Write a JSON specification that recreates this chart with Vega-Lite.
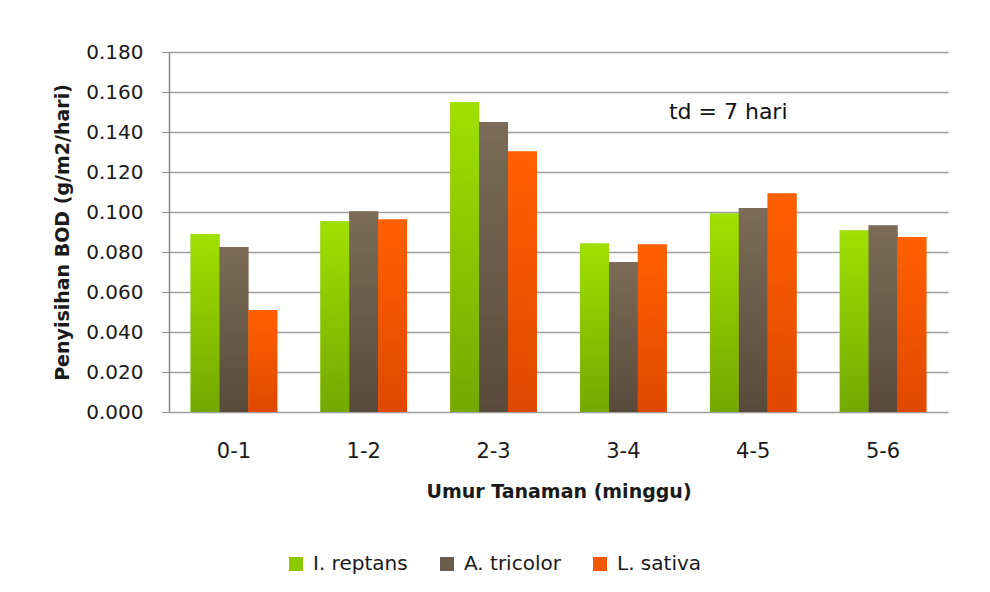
{
  "$schema": "https://vega.github.io/schema/vega-lite/v6.json",
  "width": 779,
  "height": 360,
  "autosize": {"type": "none"},
  "padding": {"left": 169, "top": 52, "right": 42, "bottom": 180},
  "background": "white",
  "config": {
    "font": "DejaVu Sans",
    "view": {"stroke": null},
    "axis": {"labelFont": "DejaVu Sans", "titleFont": "DejaVu Sans", "labelColor": "#1a1a1a", "titleColor": "#1a1a1a"},
    "legend": {"labelFont": "DejaVu Sans"}
  },
  "datasets": {
    "bod": [
      {"umur": "0-1", "spesies": "I. reptans", "bod": 0.089},
      {"umur": "0-1", "spesies": "A. tricolor", "bod": 0.0825},
      {"umur": "0-1", "spesies": "L. sativa", "bod": 0.051},
      {"umur": "1-2", "spesies": "I. reptans", "bod": 0.0955},
      {"umur": "1-2", "spesies": "A. tricolor", "bod": 0.1003},
      {"umur": "1-2", "spesies": "L. sativa", "bod": 0.0962},
      {"umur": "2-3", "spesies": "I. reptans", "bod": 0.155},
      {"umur": "2-3", "spesies": "A. tricolor", "bod": 0.145},
      {"umur": "2-3", "spesies": "L. sativa", "bod": 0.1303},
      {"umur": "3-4", "spesies": "I. reptans", "bod": 0.0842},
      {"umur": "3-4", "spesies": "A. tricolor", "bod": 0.075},
      {"umur": "3-4", "spesies": "L. sativa", "bod": 0.0837},
      {"umur": "4-5", "spesies": "I. reptans", "bod": 0.0992},
      {"umur": "4-5", "spesies": "A. tricolor", "bod": 0.102},
      {"umur": "4-5", "spesies": "L. sativa", "bod": 0.1092},
      {"umur": "5-6", "spesies": "I. reptans", "bod": 0.0908},
      {"umur": "5-6", "spesies": "A. tricolor", "bod": 0.0933},
      {"umur": "5-6", "spesies": "L. sativa", "bod": 0.0875}
    ],
    "note": [{"label": "td = 7 hari", "umur": "4-5", "bod": 0.150}]
  },
  "encoding": {
    "x": {
      "field": "umur", "type": "nominal", "sort": null,
      "scale": {"domain": ["0-1", "1-2", "2-3", "3-4", "4-5", "5-6"], "paddingInner": 0.333, "paddingOuter": 0.1667},
      "axis": {
        "title": "Umur Tanaman (minggu)", "labelAngle": 0, "labelFontSize": 21,
        "titleFontSize": 19, "titleFontWeight": "bold", "ticks": false,
        "labelPadding": 28, "titlePadding": 21, "domain": false, "grid": false
      }
    },
    "y": {
      "field": "bod", "type": "quantitative",
      "scale": {"domain": [0, 0.18], "nice": false},
      "axis": {
        "title": "Penyisihan BOD (g/m2/hari)", "format": ".3f",
        "values": [0, 0.02, 0.04, 0.06, 0.08, 0.1, 0.12, 0.14, 0.16, 0.18],
        "labelOverlap": false, "labelFontSize": 20, "titleFontSize": 19, "titleFontWeight": "bold",
        "tickSize": 7, "tickColor": "#888888", "labelPadding": 19,
        "domainColor": "#888888", "domainWidth": 1.5,
        "gridColor": "#a0a0a0", "gridWidth": 1.6, "titlePadding": 13
      }
    }
  },
  "layer": [
    {
      "data": {"name": "bod"},
      "mark": {"type": "bar"},
      "encoding": {
        "xOffset": {"field": "spesies", "type": "nominal", "scale": {"domain": ["I. reptans", "A. tricolor", "L. sativa"]}},
        "color": {
          "field": "spesies", "type": "nominal",
          "scale": {
            "domain": ["I. reptans", "A. tricolor", "L. sativa"],
            "range": ["#8cc800", "#6b5c4b", "#f25600"]
          },
          "legend": {
            "title": null, "orient": "none", "direction": "horizontal",
            "legendX": 117, "legendY": 502, "labelFontSize": 20, "labelColor": "#1a1a1a",
            "symbolType": "square", "symbolSize": 196, "symbolStrokeWidth": 0,
            "labelOffset": 7, "columnPadding": 29
          }
        }
      }
    },
    {
      "data": {"name": "bod"},
      "transform": [{"filter": "datum.spesies === 'I. reptans'"}],
      "mark": {"type": "bar", "color": {"gradient": "linear", "x1": 0, "y1": 0, "x2": 0, "y2": 1, "stops": [{"offset": 0, "color": "#a0e000"}, {"offset": 1, "color": "#74a800"}]}},
      "encoding": {"xOffset": {"field": "spesies", "type": "nominal"}}
    },
    {
      "data": {"name": "bod"},
      "transform": [{"filter": "datum.spesies === 'A. tricolor'"}],
      "mark": {"type": "bar", "color": {"gradient": "linear", "x1": 0, "y1": 0, "x2": 0, "y2": 1, "stops": [{"offset": 0, "color": "#7b6b58"}, {"offset": 1, "color": "#594a3b"}]}},
      "encoding": {"xOffset": {"field": "spesies", "type": "nominal"}}
    },
    {
      "data": {"name": "bod"},
      "transform": [{"filter": "datum.spesies === 'L. sativa'"}],
      "mark": {"type": "bar", "color": {"gradient": "linear", "x1": 0, "y1": 0, "x2": 0, "y2": 1, "stops": [{"offset": 0, "color": "#ff6000"}, {"offset": 1, "color": "#e04800"}]}},
      "encoding": {"xOffset": {"field": "spesies", "type": "nominal"}}
    },
    {
      "data": {"name": "note"},
      "mark": {"type": "text", "fontSize": 22, "font": "DejaVu Sans", "color": "#111111", "dx": -25, "align": "center", "baseline": "middle"},
      "encoding": {"text": {"field": "label"}}
    }
  ]
}
